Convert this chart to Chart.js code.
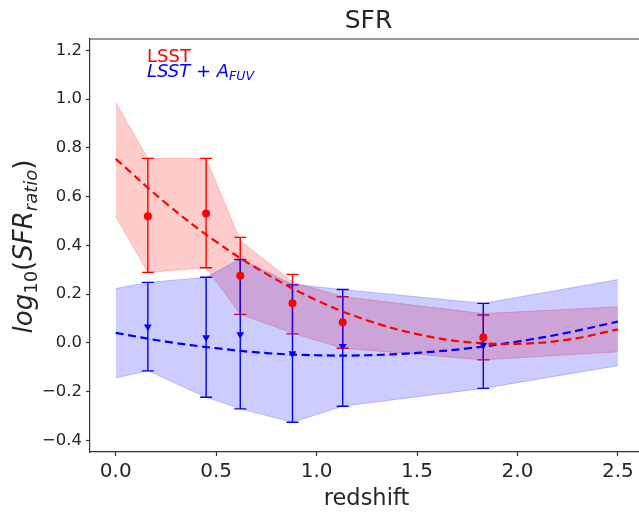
<!DOCTYPE html>
<html><head><meta charset="utf-8">
<script src="https://cdn.jsdelivr.net/npm/chart.js@4"></script>
<style>html,body{margin:0;padding:0;overflow:hidden;background:#fff;width:639px;height:513px}#wrap{position:relative;width:660px;height:513px}</style>
</head><body><div id="wrap"><canvas id="c" width="660" height="513"></canvas></div>
<script>
// ---- data ----
const redshiftBins = [0.16, 0.45, 0.62, 0.88, 1.13, 1.83];
const lsstValues   = [0.52, 0.531, 0.275, 0.162, 0.084, 0.022];
const lsstErrLow   = [0.289, 0.308, 0.117, 0.037, -0.022, -0.070];
const lsstErrHigh  = [0.757, 0.757, 0.433, 0.281, 0.189, 0.114];
const afuvValues   = [0.066, 0.022, 0.034, -0.044, -0.014, -0.009];
const afuvErrLow   = [-0.115, -0.223, -0.271, -0.326, -0.260, -0.187];
const afuvErrHigh  = [0.248, 0.269, 0.342, 0.238, 0.219, 0.162];
const bandX          = [0, 0.16, 0.45, 0.62, 0.88, 1.13, 1.83, 2.5];
const lsstBandUpper  = [0.987, 0.757, 0.757, 0.42, 0.25, 0.19, 0.12, 0.148];
const lsstBandLower  = [0.52, 0.289, 0.308, 0.117, 0.04, -0.022, -0.070, -0.037];
const afuvBandUpper  = [0.223, 0.248, 0.269, 0.345, 0.24, 0.219, 0.162, 0.26];
const afuvBandLower  = [-0.144, -0.115, -0.223, -0.271, -0.326, -0.260, -0.187, -0.094];
const fitX    = [0, 0.25, 0.5, 0.75, 1.0, 1.25, 1.5, 1.75, 2.0, 2.25, 2.5];
const lsstFit = [0.755, 0.573, 0.415, 0.283, 0.175, 0.093, 0.036, 0.003, -0.004, 0.013, 0.055];
const afuvFit = [0.041, 0.005, -0.022, -0.042, -0.051, -0.051, -0.041, -0.023, 0.005, 0.042, 0.087];
const xTicks = [0, 0.5, 1.0, 1.5, 2.0, 2.5];
const yTicks = [-0.4, -0.2, 0.0, 0.2, 0.4, 0.6, 0.8, 1.0, 1.2];

const pts = (xs, ys) => xs.map((x, i) => ({x: x, y: ys[i]}));
const fmt = v => { const s = (Math.abs(v) < 1e-9 ? 0 : v).toFixed(1); return s.replace('-', '\u2212'); };

const AX = '#333333';
const TXT = '#262626';

const errorBarPlugin = {
  id: 'errbars',
  beforeDatasetsDraw(chart) {
    const xs = chart.scales.x, ys = chart.scales.y, ctx = chart.ctx;
    const groups = [
      {lo: lsstErrLow, hi: lsstErrHigh, color: '#ff0000'},
      {lo: afuvErrLow, hi: afuvErrHigh, color: '#0000ff'}
    ];
    ctx.save();
    groups.forEach(g => {
      ctx.strokeStyle = g.color; ctx.lineWidth = 1.4;
      redshiftBins.forEach((z, i) => {
        const px = xs.getPixelForValue(z), p1 = ys.getPixelForValue(g.lo[i]), p2 = ys.getPixelForValue(g.hi[i]);
        ctx.beginPath();
        ctx.moveTo(px, p1); ctx.lineTo(px, p2);
        ctx.moveTo(px - 6, p1); ctx.lineTo(px + 6, p1);
        ctx.moveTo(px - 6, p2); ctx.lineTo(px + 6, p2);
        ctx.stroke();
      });
    });
    ctx.restore();
  }
};

const textPlugin = {
  id: 'texts',
  afterDraw(chart) {
    const ctx = chart.ctx, a = chart.chartArea;
    ctx.save();
    ctx.strokeStyle = AX; ctx.lineWidth = 1.2;
    ctx.beginPath(); ctx.moveTo(a.left, a.top); ctx.lineTo(a.right, a.top); ctx.lineTo(a.right, a.bottom); ctx.stroke();
    const cx = (a.left + a.right) / 2;
    ctx.fillStyle = TXT; ctx.textAlign = 'center'; ctx.textBaseline = 'alphabetic';
    ctx.font = '25px "DejaVu Sans"';
    ctx.fillText('SFR', cx + 2, 28);
    ctx.font = '22.5px "DejaVu Sans"';
    ctx.fillText('redshift', cx, 505);
    // y label with subscripts
    const parts = [
      {t: 'log', f: 'italic 26px "DejaVu Sans"', dy: 0},
      {t: '10', f: '18px "DejaVu Sans"', dy: 5},
      {t: '(', f: '26px "DejaVu Sans"', dy: 0},
      {t: 'SFR', f: 'italic 26px "DejaVu Sans"', dy: 0},
      {t: 'ratio', f: 'italic 18px "DejaVu Sans"', dy: 5},
      {t: ')', f: '26px "DejaVu Sans"', dy: 0}
    ];
    ctx.textAlign = 'left';
    let total = 0;
    parts.forEach(p => { ctx.font = p.f; p.w = ctx.measureText(p.t).width; total += p.w; });
    ctx.save();
    ctx.translate(32, (a.top + a.bottom) / 2 + 1);
    ctx.rotate(-Math.PI / 2);
    let x = -total / 2;
    parts.forEach(p => { ctx.font = p.f; ctx.fillText(p.t, x, p.dy); x += p.w; });
    ctx.restore();
    // legend texts
    ctx.fillStyle = '#ff0000';
    ctx.font = '18px "DejaVu Sans"';
    ctx.fillText('LSST', 147, 62);
    ctx.fillStyle = '#0000ff';
    const lp = [
      {t: 'LSST', f: 'italic 18px "DejaVu Sans"', dy: 0},
      {t: ' + ', f: '18px "DejaVu Sans"', dy: 0},
      {t: 'A', f: 'italic 18px "DejaVu Sans"', dy: 0},
      {t: 'FUV', f: 'italic 12.5px "DejaVu Sans"', dy: 3}
    ];
    let lx = 147;
    lp.forEach(p => { ctx.font = p.f; ctx.fillText(p.t, lx, 77 + p.dy); lx += ctx.measureText(p.t).width; });
    ctx.restore();
  }
};

new Chart(document.getElementById('c'), {
  type: 'line',
  data: {
    datasets: [
      {data: pts(redshiftBins, lsstValues), showLine: false, pointStyle: 'circle', pointRadius: 4, pointBackgroundColor: '#ff0000', pointBorderColor: '#ff0000', pointBorderWidth: 0, order: 0},
      {data: pts(redshiftBins, afuvValues), showLine: false, pointStyle: 'triangle', rotation: 180, pointRadius: 4.5, pointBackgroundColor: '#0000ff', pointBorderColor: '#0000ff', pointBorderWidth: 0, order: 0},
      {data: pts(fitX, lsstFit), borderColor: '#ff0000', borderWidth: 2.2, borderDash: [8, 4.5], pointRadius: 0, tension: 0.4, fill: false, order: 1},
      {data: pts(fitX, afuvFit), borderColor: '#0000ff', borderWidth: 2.2, borderDash: [8, 4.5], pointRadius: 0, tension: 0.4, fill: false, order: 1},
      {data: pts(bandX, afuvBandUpper), borderColor: 'rgba(0,0,255,0.2)', borderWidth: 1, pointRadius: 0, tension: 0, fill: '+1', backgroundColor: 'rgba(0,0,255,0.2)', order: 2},
      {data: pts(bandX, afuvBandLower), borderColor: 'rgba(0,0,255,0.2)', borderWidth: 1, pointRadius: 0, tension: 0, fill: false, order: 2},
      {data: pts(bandX, lsstBandUpper), borderColor: 'rgba(255,0,0,0.2)', borderWidth: 1, pointRadius: 0, tension: 0, fill: '+1', backgroundColor: 'rgba(255,0,0,0.2)', order: 3},
      {data: pts(bandX, lsstBandLower), borderColor: 'rgba(255,0,0,0.2)', borderWidth: 1, pointRadius: 0, tension: 0, fill: false, order: 3}
    ]
  },
  options: {
    responsive: false, animation: false,
    layout: {padding: {left: 0, right: 17, top: 39, bottom: 0}},
    plugins: {legend: {display: false}, tooltip: {enabled: false}, title: {display: false}},
    scales: {
      x: {
        type: 'linear', min: -0.128, max: 2.625,
        afterBuildTicks: s => { s.ticks = xTicks.map(v => ({value: v})); },
        afterFit: s => { s.height = 61; },
        grid: {display: true, drawOnChartArea: false, drawTicks: true, tickLength: 4, tickColor: AX, tickWidth: 1.2},
        border: {display: true, color: AX, width: 1.2},
        ticks: {font: {family: 'DejaVu Sans', size: 20}, color: TXT, padding: 4, maxRotation: 0, autoSkip: false, callback: v => fmt(v)}
      },
      y: {
        type: 'linear', min: -0.448, max: 1.247,
        afterBuildTicks: s => { s.ticks = yTicks.map(v => ({value: v})); },
        afterFit: s => { s.width = 90; },
        grid: {display: true, drawOnChartArea: false, drawTicks: true, tickLength: 4, tickColor: AX, tickWidth: 1.2},
        border: {display: true, color: AX, width: 1.2},
        ticks: {font: {family: 'DejaVu Sans', size: 16.5}, color: TXT, padding: 4, autoSkip: false, callback: v => fmt(v)}
      }
    }
  },
  plugins: [errorBarPlugin, textPlugin]
});
</script>
</body></html>
